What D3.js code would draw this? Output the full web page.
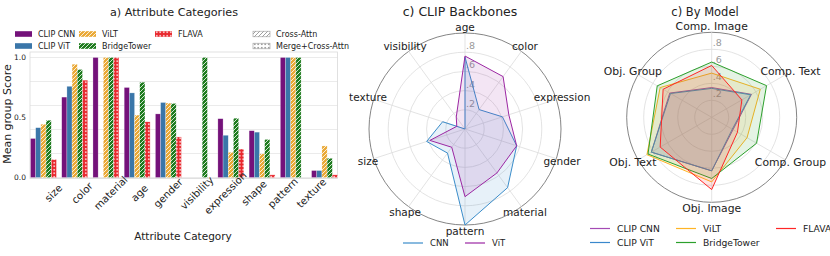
<!DOCTYPE html>
<html>
<head>
<meta charset="utf-8">
<script src="https://cdn.jsdelivr.net/npm/d3@7"></script>
<style>
body{margin:0;background:#fff;}
text{font-family:"DejaVu Sans",sans-serif;fill:#222;}
</style>
</head>
<body>
<svg id="chart" width="830" height="256"></svg>
<script>
// ---- a) attribute categories (bars)
const categories=['size','color','material','age','gender','visibility','expression','shape','pattern','texture'];
const models=['CLIP CNN','CLIP ViT','ViLT','BridgeTower','FLAVA'];
const clipCnn=[0.325,0.67,1.0,0.75,0.53,0,0.49,0.39,1.0,0.058];
const clipVit=[0.415,0.76,0,0.705,0.625,0,0.352,0.378,1.0,0.058];
const vilt=[0.444,0.944,1.0,0.52,0.62,0,0.21,0.197,1.0,0.263];
const bridgeTower=[0.477,0.9,1.0,0.794,0.617,1.0,0.494,0.317,1.0,0.16];
const flava=[0.15,0.811,1.0,0.464,0.338,0,0.237,0.022,0,0.022];
const yTicks=[0,0.5,1.0];

// ---- b) CLIP backbones (radar)
const backboneAxes=['age','color','expression','gender','material','pattern','shape','size','texture','visibility'];
const cnnBackbone=[0.75,0.25,0.41,0.566,0.755,1.0,0.31,0.42,0.245,0.0];
const vitBackbone=[0.76,0.675,0.48,0.566,0.566,0.705,0.235,0.385,0.09,0.155];

// ---- c) by model (radar)
const modelAxes=['Comp. Image','Comp. Text','Comp. Group','Obj. Image','Obj. Text','Obj. Group'];
const cnnModel=[0.35,0.54,0.29,0.63,0.82,0.57];
const vitModel=[0.34,0.53,0.28,0.63,0.82,0.56];
const viltModel=[0.52,0.66,0.48,0.76,0.88,0.70];
const bridgeModel=[0.65,0.745,0.61,0.72,0.865,0.74];
const flavaModel=[0.61,0.41,0.35,0.85,0.70,0.66];
const ringTicks=[0.2,0.4,0.6,0.8];

const svg=d3.select('#chart');
const defs=svg.append('defs');

function hatch(id,bg,fg){
	const p=defs.append('pattern').attr('id',id).attr('patternUnits','userSpaceOnUse')
		.attr('width',4).attr('height',4)
	p.append('rect').attr('width',4).attr('height',4).attr('fill',bg)
	p.append('path').attr('d','M-1,1 l2,-2 M0,4 l4,-4 M3,5 l2,-2')
		.attr('stroke',fg).attr('stroke-width',0.8)
}
function dots(id,bg,fg){
	const p=defs.append('pattern').attr('id',id).attr('patternUnits','userSpaceOnUse')
		.attr('width',3.5).attr('height',3.5)
	p.append('rect').attr('width',3.5).attr('height',3.5).attr('fill',bg)
	p.append('circle').attr('cx',1.75).attr('cy',1.75).attr('r',0.8).attr('fill',fg)
}
hatch('h-vilt','#eaa936','#fff');
hatch('h-bt','#1e7b1e','#fff');
dots('d-flava','#e8282e','#fff');
hatch('h-leg','#fff','#888');
dots('d-leg','#fff','#777');

const barFills=['#74127a','#3a76a9','url(#h-vilt)','url(#h-bt)','url(#d-flava)'];
const barSeries=[clipCnn,clipVit,vilt,bridgeTower,flava];

function renderBars(){
	const x0=d3.scaleBand().domain(categories).range([30.5,337.5]).paddingInner(0.17).paddingOuter(0)
	const x1=d3.scaleBand().domain(models).range([0,x0.bandwidth()])
	const y=d3.scaleLinear().domain([0,1]).range([177.5,57.5])
	// tick labels sit on their own, evenly spread positions
	const xl=d3.scalePoint().domain(categories).range([53.5,311.5])

	const g=svg.append('g')
	g.selectAll('.grid')
		.data(d3.range(0,1.01,0.2))
		.enter()
		.append('line')
		.attr('x1',30).attr('x2',337.5)
		.attr('y1',d=>y(d)).attr('y2',d=>y(d))
		.attr('stroke','#e6e6e6').attr('stroke-width',0.8)
	g.append('rect').attr('x',30).attr('y',52).attr('width',307.5).attr('height',126.5)
		.attr('fill','none').attr('stroke','#d9d9d9').attr('stroke-width',0.8)

	const rows=[];
	categories.forEach((c,i)=>{
		models.forEach((m,j)=>{
			rows.push({cat:c,model:m,j:j,value:barSeries[j][i]})
		})
	})
	g.selectAll('.bar')
		.data(rows.filter(d=>d.value>0))
		.enter()
		.append('rect')
		.attr('x',d=>x0(d.cat)+x1(d.model))
		.attr('width',x1.bandwidth())
		.attr('y',d=>y(d.value))
		.attr('height',d=>y(0)-y(d.value))
		.attr('fill',d=>barFills[d.j])
		.attr('stroke','#fff').attr('stroke-opacity',0.5).attr('stroke-width',0.5)

	g.selectAll('.ytick')
		.data(yTicks)
		.enter()
		.append('text')
		.attr('x',26).attr('y',d=>y(d)+2.5)
		.attr('text-anchor','end').attr('font-size',7.5)
		.text(d=>d.toFixed(1))
	g.selectAll('.xtick')
		.data(categories)
		.enter()
		.append('text')
		.attr('transform',d=>'translate('+xl(d)+',193) rotate(-45)')
		.attr('text-anchor','middle').attr('dominant-baseline','central')
		.attr('font-size',10.2)
		.text(d=>d)
	g.append('text').attr('x',183).attr('y',239.5).attr('text-anchor','middle')
		.attr('font-size',10.5).text('Attribute Category')
	g.append('text').attr('transform','translate(10.5,114) rotate(-90)').attr('text-anchor','middle')
		.attr('font-size',11).text('Mean group Score')
	g.append('text').attr('x',174).attr('y',16).attr('text-anchor','middle')
		.attr('font-size',11.2).text('a) Attribute Categories')

	// legend
	const leg=[
		{label:'CLIP CNN',fill:barFills[0],x:15,y:34},
		{label:'CLIP ViT',fill:barFills[1],x:15,y:46},
		{label:'ViLT',fill:barFills[2],x:79,y:34},
		{label:'BridgeTower',fill:barFills[3],x:79,y:46},
		{label:'FLAVA',fill:barFills[4],x:155,y:34},
		{label:'Cross-Attn',fill:'url(#h-leg)',x:253,y:34,stroke:'#999'},
		{label:'Merge+Cross-Attn',fill:'url(#d-leg)',x:253,y:46,stroke:'#999'}
	];
	const li=g.selectAll('.leg').data(leg).enter().append('g')
		.attr('transform',d=>'translate('+d.x+','+d.y+')')
	li.append('rect').attr('x',0).attr('y',-2.8).attr('width',17).attr('height',5.6)
		.attr('fill',d=>d.fill).attr('stroke',d=>d.stroke||'none').attr('stroke-width',0.6)
	li.append('text').attr('x',23).attr('y',3).attr('font-size',8).text(d=>d.label)
}

function renderRadar(opt){
	const n=opt.axes.length
	const r=d3.scaleLinear().domain([0,1]).range([0,opt.R])
	const ang=d3.scalePoint().domain(opt.axes).range([0,2*Math.PI*(n-1)/n])
	const g=svg.append('g').attr('transform','translate('+opt.cx+','+opt.cy+')')
	const pt=(a,v)=>[Math.sin(ang(a))*r(v),-Math.cos(ang(a))*r(v)]

	g.selectAll('.ring').data(ringTicks).enter().append('circle')
		.attr('r',d=>r(d)).attr('fill','none').attr('stroke','#dcdcdc').attr('stroke-width',0.8)
	g.append('circle').attr('r',r(1)).attr('fill','none').attr('stroke','#666').attr('stroke-width',0.8)
	g.selectAll('.spoke').data(opt.axes).enter().append('line')
		.attr('x1',0).attr('y1',0)
		.attr('x2',d=>pt(d,1)[0]).attr('y2',d=>pt(d,1)[1])
		.attr('stroke','#dcdcdc').attr('stroke-width',0.8)
	g.selectAll('.rl').data(ringTicks).enter().append('text')
		.attr('x',1).attr('y',d=>-r(d)-3)
		.attr('font-size',9.5).style('fill','#9a9a9a')
		.text(d=>String(d).replace('0.','.'))

	const line=d3.line().curve(d3.curveLinearClosed)
	opt.series.forEach(s=>{
		const pts=opt.axes.map((a,i)=>pt(a,s.values[i]))
		g.append('path').attr('d',line(pts))
			.attr('fill',s.color).attr('fill-opacity',opt.alpha)
			.attr('stroke',s.color).attr('stroke-width',1)
	})

	g.selectAll('.al').data(opt.axes).enter().append('text')
		.attr('x',d=>Math.sin(ang(d))*opt.labelR)
		.attr('y',d=>-Math.cos(ang(d))*opt.labelR)
		.attr('text-anchor','middle').attr('dominant-baseline','central')
		.attr('font-size',opt.fs)
		.text(d=>d)
	svg.append('text').attr('x',opt.titleX).attr('y',16).attr('text-anchor','middle')
		.attr('font-size',opt.titleFs).text(opt.title)

	const lg=svg.selectAll('.lg'+opt.id).data(opt.legend).enter().append('g')
		.attr('transform',d=>'translate('+d.x+','+d.y+')')
	lg.append('line').attr('x1',0).attr('x2',20).attr('stroke',(d,i)=>d.color).attr('stroke-width',1.2)
	lg.append('text').attr('x',27).attr('y',3).attr('font-size',opt.legFs).text(d=>d.label)
}

renderBars();

renderRadar({
	id:'b',axes:backboneAxes,cx:465,cy:129,R:96,labelR:102,fs:10.5,alpha:0.12,
	title:'c) CLIP Backbones',titleX:460,titleFs:12.5,legFs:8.5,
	series:[
		{values:cnnBackbone,color:'#3b8dca'},
		{values:vitBackbone,color:'#9c27a3'}
	],
	legend:[
		{label:'CNN',color:'#3b8dca',x:403,y:243},
		{label:'ViT',color:'#9c27a3',x:465,y:243}
	]
});

renderRadar({
	id:'c',axes:modelAxes,cx:711.7,cy:117.3,R:85,labelR:91,fs:10.8,alpha:0.13,
	title:'c) By Model',titleX:705,titleFs:11.5,legFs:9.2,
	series:[
		{values:cnnModel,color:'#a44ab4'},
		{values:vitModel,color:'#3a88cc'},
		{values:viltModel,color:'#ffb425'},
		{values:bridgeModel,color:'#2ca02c'},
		{values:flavaModel,color:'#ff2626'}
	],
	legend:[
		{label:'CLIP CNN',color:'#a44ab4',x:590,y:228.5},
		{label:'CLIP ViT',color:'#3a88cc',x:590,y:242.5},
		{label:'ViLT',color:'#ffb425',x:676,y:228.5},
		{label:'BridgeTower',color:'#2ca02c',x:676,y:242.5},
		{label:'FLAVA',color:'#ff2626',x:776,y:228.5}
	]
});
</script>
</body>
</html>
